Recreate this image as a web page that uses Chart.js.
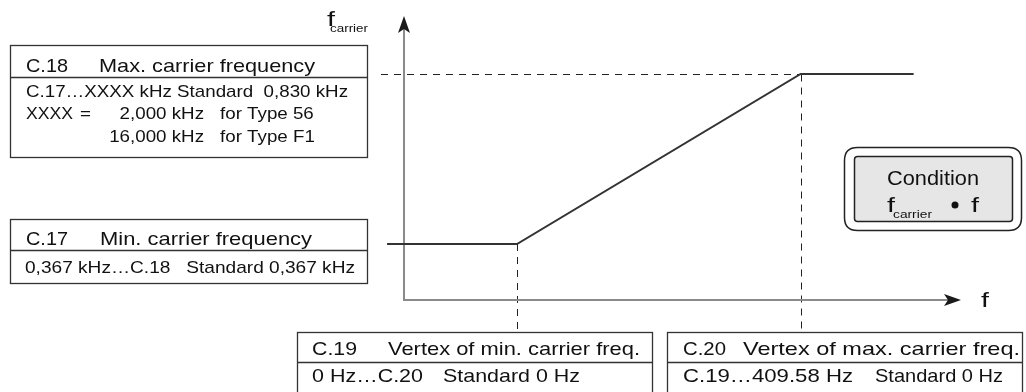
<!DOCTYPE html>
<html>
<head>
<meta charset="utf-8">
<script src="https://cdn.jsdelivr.net/npm/chart.js@4"></script>
<style>
  html, body { margin: 0; padding: 0; background: #fff; }
  canvas { display: block; }
</style>
</head>
<body>
<canvas id="c" width="1026" height="392"></canvas>
<script>
// ---- data (schematic units) ----
// f axis: 0 = origin, 1 = C.19 vertex of min. carrier freq.
const fPoints = [-0.15, 1, 3.51, 4.51];
// carrier frequency in kHz
const carrierPoints = [0.367, 0.367, 0.830, 0.830];
const vertexMinF = 1;
const vertexMaxF = 3.51;
const fMinCarrier = 0.367;
const fMaxCarrier = 0.830;

const FONT = '"Liberation Sans", Arial, Helvetica, sans-serif';

function scaleFor(ctx, s, size, targetW) {
  ctx.save();
  ctx.font = size + 'px ' + FONT;
  const w = ctx.measureText(s).width;
  ctx.restore();
  return targetW / w;
}
function txt(ctx, s, x, y, size, targetW, align, sxFixed) {
  ctx.save();
  ctx.font = size + 'px ' + FONT;
  const w = ctx.measureText(s).width;
  const sx = sxFixed ? sxFixed : (targetW ? targetW / w : 1.22);
  ctx.textBaseline = 'alphabetic';
  ctx.fillStyle = '#111';
  let x0 = x;
  if (align === 'right') x0 = x - w * sx;
  ctx.translate(x0, y);
  ctx.scale(sx, 1);
  ctx.fillText(s, 0, 0);
  ctx.restore();
}
function rect(ctx, x1, y1, x2, y2) {
  ctx.strokeRect(x1 + 0.5, y1 + 0.5, x2 - x1, y2 - y1);
}
function hline(ctx, x1, x2, y) {
  ctx.beginPath(); ctx.moveTo(x1, y + 0.5); ctx.lineTo(x2, y + 0.5); ctx.stroke();
}
function rrect(ctx, x1, y1, x2, y2, r) {
  ctx.beginPath();
  ctx.moveTo(x1 + r, y1);
  ctx.lineTo(x2 - r, y1); ctx.quadraticCurveTo(x2, y1, x2, y1 + r);
  ctx.lineTo(x2, y2 - r); ctx.quadraticCurveTo(x2, y2, x2 - r, y2);
  ctx.lineTo(x1 + r, y2); ctx.quadraticCurveTo(x1, y2, x1, y2 - r);
  ctx.lineTo(x1, y1 + r); ctx.quadraticCurveTo(x1, y1, x1 + r, y1);
  ctx.closePath();
}

const diagram = {
  id: 'diagram',
  beforeDatasetsDraw(chart) {
    const ctx = chart.ctx;
    const xs = chart.scales.x, ys = chart.scales.y;
    const ox = Math.round(xs.getPixelForValue(0));
    const axisY = 300;
    const vMinX = Math.round(xs.getPixelForValue(vertexMinF)) + 0.5;
    const vMaxX = Math.round(xs.getPixelForValue(vertexMaxF)) + 0.5;
    const yMin = ys.getPixelForValue(fMinCarrier);
    const yMax = Math.round(ys.getPixelForValue(fMaxCarrier)) + 0.5;
    ctx.save();
    // dashed guides
    ctx.strokeStyle = '#222';
    ctx.lineWidth = 1;
    ctx.setLineDash([7, 6]);
    ctx.beginPath(); ctx.moveTo(381, yMax); ctx.lineTo(vMaxX, yMax); ctx.stroke();
    ctx.beginPath(); ctx.moveTo(vMinX, yMin); ctx.lineTo(vMinX, 331); ctx.stroke();
    ctx.beginPath(); ctx.moveTo(vMaxX, yMax); ctx.lineTo(vMaxX, 331); ctx.stroke();
    ctx.setLineDash([]);
    // axes
    ctx.strokeStyle = '#8a8a8a';
    ctx.lineWidth = 2;
    ctx.beginPath(); ctx.moveTo(ox, axisY); ctx.lineTo(ox, 28); ctx.stroke();
    ctx.beginPath(); ctx.moveTo(ox - 1, axisY); ctx.lineTo(950, axisY); ctx.stroke();
    ctx.fillStyle = '#1a1a1a';
    ctx.beginPath();
    ctx.moveTo(ox, 16); ctx.lineTo(ox - 6, 33); ctx.lineTo(ox, 29); ctx.lineTo(ox + 6, 33); ctx.closePath(); ctx.fill();
    ctx.beginPath();
    ctx.moveTo(961, axisY); ctx.lineTo(944, axisY - 6); ctx.lineTo(948, axisY); ctx.lineTo(944, axisY + 6); ctx.closePath(); ctx.fill();
    ctx.restore();
  },
  afterDraw(chart) {
    const ctx = chart.ctx;
    ctx.save();
    ctx.strokeStyle = '#333';
    ctx.lineWidth = 1.3;
    ctx.fillStyle = '#fff';

    // axis labels
    txt(ctx, 'f', 327, 26, 21, 8);
    txt(ctx, 'carrier', 330, 32, 11, 38);
    txt(ctx, 'f', 981, 307, 21, 8);

    // C.18 box
    rect(ctx, 10, 45, 367, 157);
    hline(ctx, 10, 367, 77);
    txt(ctx, 'C.18', 26, 72, 19, 42);
    txt(ctx, 'Max. carrier frequency', 99, 72, 19, 216);
    const line2 = 'C.17\u2026XXXX kHz Standard  0,830 kHz';
    const bsx = scaleFor(ctx, line2, 17, 322);
    txt(ctx, line2, 26, 97, 17, 322);
    txt(ctx, 'XXXX', 26, 119, 17, 47);
    txt(ctx, '=', 80, 119, 17, 0, 'left', bsx);
    txt(ctx, '2,000 kHz', 204, 119, 17, 0, 'right', bsx);
    txt(ctx, 'for Type 56', 220, 119, 17, 0, 'left', bsx);
    txt(ctx, '16,000 kHz', 204, 142, 17, 0, 'right', bsx);
    txt(ctx, 'for Type F1', 220, 142, 17, 0, 'left', bsx);

    // C.17 box
    rect(ctx, 10, 219, 367, 283);
    hline(ctx, 10, 367, 250);
    txt(ctx, 'C.17', 26, 245, 19, 42);
    txt(ctx, 'Min. carrier frequency', 100, 245, 19, 212);
    txt(ctx, '0,367 kHz\u2026C.18   Standard 0,367 kHz', 25, 273, 17, 330);

    // C.19 box
    rect(ctx, 297, 332, 652, 400);
    hline(ctx, 297, 652, 362);
    txt(ctx, 'C.19', 312, 355, 19, 45);
    txt(ctx, 'Vertex of min. carrier freq.', 388, 355, 19, 252);
    txt(ctx, '0 Hz\u2026C.20', 312, 382, 19, 111);
    txt(ctx, 'Standard 0 Hz', 443, 382, 19, 137);

    // C.20 box
    rect(ctx, 667, 332, 1022, 400);
    hline(ctx, 667, 1022, 362);
    txt(ctx, 'C.20', 683, 355, 19, 43);
    txt(ctx, 'Vertex of max. carrier freq.', 743, 355, 19, 277);
    txt(ctx, 'C.19\u2026409.58 Hz', 683, 382, 19, 170);
    txt(ctx, 'Standard 0 Hz', 875, 382, 19, 128);

    // Condition box
    ctx.lineWidth = 1.5;
    ctx.strokeStyle = '#222';
    rrect(ctx, 844.5, 147.5, 1021.5, 230.5, 13);
    ctx.fillStyle = '#fff'; ctx.fill(); ctx.stroke();
    rrect(ctx, 854.5, 156.5, 1012.5, 221.5, 3);
    ctx.fillStyle = '#e6e6e6'; ctx.fill(); ctx.stroke();
    txt(ctx, 'Condition', 887, 185, 21, 92);
    txt(ctx, 'f', 887, 212, 21, 8);
    txt(ctx, 'carrier', 893, 218, 11, 39);
    ctx.fillStyle = '#111';
    ctx.beginPath(); ctx.arc(955, 205, 3.5, 0, Math.PI * 2); ctx.fill();
    txt(ctx, 'f', 971, 212, 21, 8);
    ctx.restore();
  }
};

const pxPerF = 113, originPx = 404;
const pxPerKHz = (244 - 74) / (fMaxCarrier - fMinCarrier);

new Chart(document.getElementById('c'), {
  type: 'scatter',
  data: {
    datasets: [{
      data: fPoints.map((f, i) => ({ x: f, y: carrierPoints[i] })),
      showLine: true,
      borderColor: '#333',
      borderWidth: 2,
      pointRadius: 0,
      fill: false,
      tension: 0
    }]
  },
  options: {
    responsive: false,
    animation: false,
    events: [],
    layout: { padding: 0 },
    plugins: { legend: { display: false }, tooltip: { enabled: false }, title: { display: false } },
    scales: {
      x: { type: 'linear', display: false, min: -originPx / pxPerF, max: (1026 - originPx) / pxPerF },
      y: { type: 'linear', display: false,
           min: fMinCarrier - (392 - 244) / pxPerKHz,
           max: fMaxCarrier + 74 / pxPerKHz }
    }
  },
  plugins: [diagram]
});
</script>
</body>
</html>
